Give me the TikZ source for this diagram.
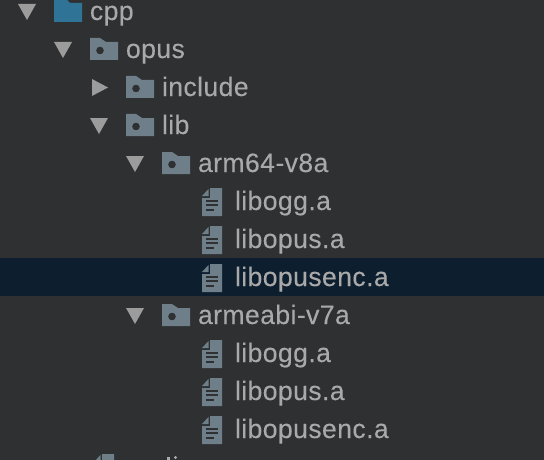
\documentclass[tikz,border=0pt]{standalone}
\usepackage{fontspec}
\setmainfont[LetterSpace=1.5,FakeBold=0.1]{Liberation Sans}
\definecolor{panelbg}{HTML}{2F3032}
\definecolor{rowsel}{HTML}{0D1F2F}
\definecolor{labelgray}{HTML}{A9A9A9}
\definecolor{arrowgray}{HTML}{9C9C9C}
\definecolor{foldergray}{HTML}{6E7F8A}
\definecolor{folderblue}{HTML}{2F7396}
\newcommand{\treefolder}[3]{% x, y of top left, colour
\fill[#3] (#1,#2) -- ++(10,0) -- ++(6,4) -- ++(12,0) -- ++(0,18) -- ++(-28,0) -- cycle;
\fill[panelbg] (#1+10,#2+12.5) circle (3.8);
}
\newcommand{\treefile}[2]{% x, y of top left
\fill[foldergray] (#1+8,#2) -- ++(12,0) -- ++(0,28) -- ++(-20,0) -- ++(0,-18) -- ++(8,0) -- cycle;
\fill[foldergray] (#1+6.5,#2+1) -- ++(0,7) -- ++(-6.5,0) -- cycle;
\draw[panelbg,line width=2] (#1+4,#2+12.5) -- ++(12,0);
\draw[panelbg,line width=2] (#1+4,#2+17) -- ++(12,0);
\draw[panelbg,line width=2] (#1+4,#2+21.5) -- ++(8,0);
}
\newcommand{\treeopen}[2]{% x, y of top left
\fill[arrowgray] (#1,#2) -- ++(18,0) -- ++(-9,16) -- cycle;
}
\newcommand{\treeclosed}[2]{% x, y of top left
\fill[arrowgray] (#1,#2) -- ++(16,8.5) -- ++(-16,8.5) -- cycle;
}
\begin{document}
\begin{tikzpicture}[x=1pt,y=-1pt]
\tikzstyle{every node}=[anchor=base west, inner sep=0pt, outer sep=0pt, text=labelgray, font=\fontsize{26.6}{30}\selectfont]
\useasboundingbox (0,0) rectangle (544,460);
\fill[panelbg] (0,0) rectangle (544,460);
\fill[rowsel] (0,258) rectangle (544,296);
% arrows
\treeopen{18}{4}
\treeopen{54}{42}
\treeclosed{92}{79}
\treeopen{90}{118}
\treeopen{126}{156}
\treeopen{126}{308}
% folders
\begin{scope}
\clip (0,0) rectangle (544,460);
\fill[folderblue] (54,-2) -- (65,-2) -- (70,3) -- (82,3) -- (82,22) -- (54,22) -- cycle;
\treefile{94}{454}
\fill[labelgray] (167,457) rectangle (169.5,460);
\fill[labelgray] (175.5,457.5) circle (1.6);
\end{scope}
\treefolder{90}{38}{foldergray}
\treefolder{126}{76}{foldergray}
\treefolder{126}{114}{foldergray}
\treefolder{162}{152}{foldergray}
\treefolder{162}{304}{foldergray}
% files
\treefile{202}{188}
\treefile{202}{226}
\treefile{202}{264}
\treefile{202}{340}
\treefile{202}{378}
\treefile{202}{416}
% labels
\draw (90,20) node (cpp) {cpp};
\draw (126,58) node (opus) {opus};
\draw (162,96) node (include) {include};
\draw (162,134) node (lib) {lib};
\draw (198,172) node (arm64) {arm64-v8a};
\draw (235,210) node (ogg1) {libogg.a};
\draw (235,248) node (opus1) {libopus.a};
\draw (235,286) node (enc1) {libopusenc.a};
\draw (198,324) node (armeabi) {armeabi-v7a};
\draw (235,362) node (ogg2) {libogg.a};
\draw (235,400) node (opus2) {libopus.a};
\draw (235,438) node (enc2) {libopusenc.a};
\end{tikzpicture}
\end{document}
